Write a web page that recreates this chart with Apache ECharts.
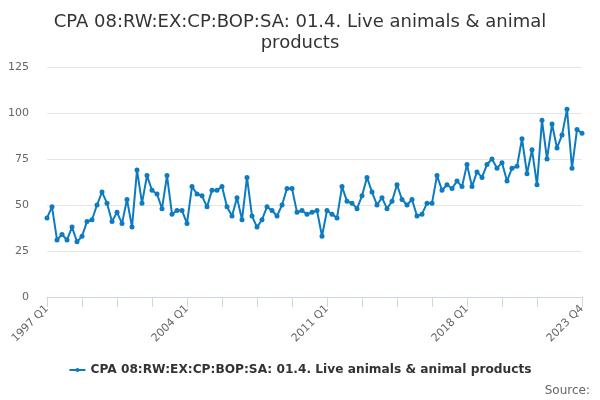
<!DOCTYPE html>
<html>
<head>
<meta charset="utf-8">
<script src="https://cdn.jsdelivr.net/npm/echarts@6/dist/echarts.min.js"></script>
<style>
  html, body { margin: 0; padding: 0; background: #fff; }
  #chart { width: 600px; height: 400px; }
</style>
</head>
<body>
<div id="chart"></div>
<script>
// Quarterly series, 1997 Q1 .. 2023 Q4
const seriesName = 'CPA 08:RW:EX:CP:BOP:SA: 01.4. Live animals & animal products';
const firstYear = 1997;
const lastYear = 2023;

const values = [
  43, 49, 31, 34, 31, 38, 30, 33, 41, 42, 50, 57, 51, 41, 46, 40,
  53, 38, 69, 51, 66, 58, 56, 48, 66, 45, 47, 47, 40, 60, 56, 55,
  49, 58, 58, 60, 49, 44, 54, 42, 65, 44, 38, 42, 49, 47, 44, 50,
  59, 59, 46, 47, 45, 46, 47, 33, 47, 45, 43, 60, 52, 51, 48, 55,
  65, 57, 50, 54, 48, 52, 61, 53, 50, 53, 44, 45, 51, 51, 66, 58,
  61, 59, 63, 60, 72, 60, 68, 65, 72, 75, 70, 73, 63, 70, 71, 86,
  67, 80, 61, 96, 75, 94, 81, 88, 102, 70, 91, 89
];

const yTicks = [0, 25, 50, 75, 100, 125];

// category labels built from the year range
const categories = [];
for (let y = firstYear; y <= lastYear; y++) {
  for (let q = 1; q <= 4; q++) categories.push(y + ' Q' + q);
}
const lastIdx = categories.length - 1;

const chart = echarts.init(document.getElementById('chart'));
chart.setOption({
  animation: false,
  title: {
    text: 'CPA 08:RW:EX:CP:BOP:SA: 01.4. Live animals & animal\nproducts',
    left: 'center',
    top: 7,
    textStyle: { fontFamily: 'DejaVu Sans', fontSize: 18, fontWeight: 'normal', color: '#333', lineHeight: 21 }
  },
  grid: { left: 47, right: 18, top: 67, bottom: 103 },
  legend: {
    bottom: 19,
    left: 'center',
    itemWidth: 16,
    itemHeight: 5,
    itemGap: 10,
    textStyle: { fontFamily: 'DejaVu Sans', fontSize: 12.2, fontWeight: 'bold', color: '#333' },
    data: [seriesName]
  },
  graphic: [{
    type: 'text',
    right: 10,
    bottom: 3,
    style: { text: 'Source:', fontFamily: 'DejaVu Sans', fontSize: 12, fill: '#666' }
  }],
  xAxis: {
    type: 'category',
    data: categories,
    boundaryGap: false,
    axisLine: { lineStyle: { color: '#ccd6eb' } },
    axisTick: {
      length: 10,
      lineStyle: { color: '#ccd6eb' },
      interval: (i) => (i % 7 === 0 && i !== 105) || i === lastIdx
    },
    axisLabel: {
      rotate: 45,
      color: '#666',
      fontFamily: 'DejaVu Sans',
      fontSize: 11,
      margin: 10,
      interval: (i) => i % 28 === 0 || i === lastIdx
    }
  },
  yAxis: {
    type: 'value',
    min: yTicks[0],
    max: yTicks[yTicks.length - 1],
    interval: 25,
    axisLine: { show: false },
    axisTick: { show: false },
    axisLabel: { color: '#666', fontFamily: 'DejaVu Sans', fontSize: 11, margin: 18 },
    splitLine: { lineStyle: { color: '#e6e6e6' } }
  },
  series: [{
    name: seriesName,
    type: 'line',
    data: values,
    symbol: 'circle',
    symbolSize: 5,
    showAllSymbol: true,
    itemStyle: { color: '#0c7bc0' },
    lineStyle: { width: 2, color: '#0c7bc0' }
  }]
});
</script>
</body>
</html>
